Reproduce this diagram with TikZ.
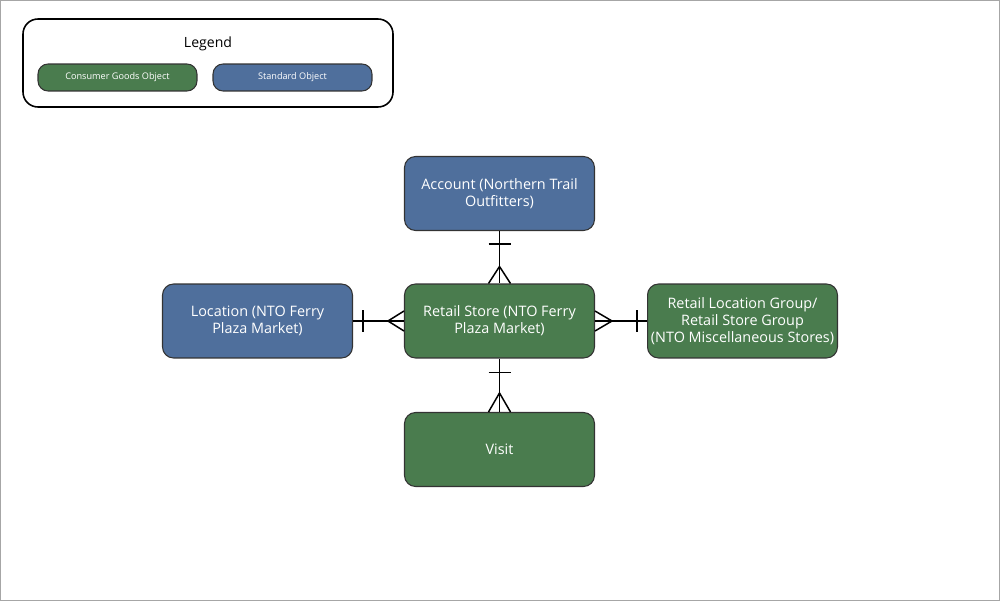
\documentclass[tikz,border=0pt]{standalone}
\usepackage{fontspec}
\setmainfont{Open Sans}
\usepackage{xcolor}
\usetikzlibrary{calc}
\definecolor{cgreen}{HTML}{4A7C4E}
\definecolor{sblue}{HTML}{4F6F9C}

\tikzset{
  obj/.style={draw=black!80, line width=0.6pt, rounded corners=0.22cm, text=white, inner xsep=1pt,
    minimum width=3.8cm, minimum height=1.48cm, align=center, font=\fontsize{8.2}{9.6}\selectfont},
  cgobj/.style={obj, fill=cgreen},
  stdobj/.style={obj, fill=sblue},
  legitem/.style={draw=black!80, line width=0.6pt, rounded corners=0.2cm, text=white,
    minimum width=3.18cm, minimum height=0.54cm, font=\fontsize{5.2}{6}\selectfont},
  rel/.style={line width=0.85pt}
}

\begin{document}
\begin{tikzpicture}[x=0.02cm,y=-0.02cm]
\useasboundingbox (0,0) rectangle (1000,601);
\draw[gray!70, line width=0.6pt] (0.5,0.5) rectangle (999.5,600.5);

% legend
\draw[line width=0.9pt, rounded corners=0.3cm] (23,19) rectangle (393,107);
\node[font=\fontsize{8}{9}\selectfont] (leg) at (208,44) {Legend};
\node[legitem, fill=cgreen] (lcg) at (117.5,77.5) {Consumer Goods Object};
\node[legitem, fill=sblue] (lstd) at (292.5,77.5) {Standard Object};

% objects
\node[stdobj] (acc) at (499.5,193.5) {Account (Northern Trail\\Outfitters)};
\node[stdobj] (loc) at (257.5,321) {Location (NTO Ferry\\Plaza Market)};
\node[cgobj] (rs) at (499.5,321) {Retail Store (NTO Ferry\\Plaza Market)};
\node[cgobj] (rlg) at (742.5,321) {Retail Location Group/\\Retail Store Group\\(NTO Miscellaneous Stores)};
\node[cgobj] (vis) at (499.5,449.5) {Visit};

% account - retail store
\draw[rel] (acc.south) -- (rs.north);
\draw[rel] ($(acc.south)+(-11,13)$) -- ($(acc.south)+(11,13)$);
\draw[rel] ($(rs.north)+(-11,0)$) -- ($(rs.north)+(0,-17)$) -- ($(rs.north)+(11,0)$);

% location - retail store
\draw[rel] (loc.east) -- (rs.west);
\draw[rel] ($(loc.east)+(10,-11)$) -- ($(loc.east)+(10,11)$);
\draw[rel] ($(rs.west)+(0,-10)$) -- ($(rs.west)+(-16,0)$) -- ($(rs.west)+(0,10)$);

% retail store - group
\draw[rel] (rs.east) -- (rlg.west);
\draw[rel] ($(rlg.west)+(-10,-11)$) -- ($(rlg.west)+(-10,11)$);
\draw[rel] ($(rs.east)+(0,-10)$) -- ($(rs.east)+(17,0)$) -- ($(rs.east)+(0,10)$);

% retail store - visit
\draw[rel] (rs.south) -- (vis.north);
\draw[rel] ($(rs.south)+(-11,14)$) -- ($(rs.south)+(11,14)$);
\draw[rel] ($(vis.north)+(-11,0)$) -- ($(vis.north)+(0,-19)$) -- ($(vis.north)+(11,0)$);
\end{tikzpicture}
\end{document}
